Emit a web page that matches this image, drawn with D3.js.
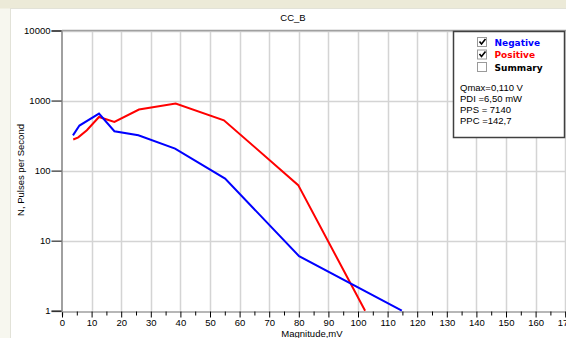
<!DOCTYPE html>
<html><head><meta charset="utf-8">
<script src="https://cdn.jsdelivr.net/npm/d3@7"></script>
<style>
html,body{margin:0;padding:0;background:#fff;}
svg{display:block;}
text{font-family:"Liberation Sans",Arial,sans-serif;}
</style></head>
<body>
<svg id="c" width="566" height="338"></svg>
<script>
const title = "CC_B";
const xLabel = "Magnitude,mV";
const yLabel = "N, Pulses per Second";
const xTicks = [0,10,20,30,40,50,60,70,80,90,100,110,120,130,140,150,160,170];
const yTicks = [1,10,100,1000,10000];
const negX = [3.7, 5.9, 12.5, 17.7, 25.8, 38.2, 55.1, 80.1, 114.8];
const negY = [318, 440, 651, 365, 320, 206, 77, 6.0, 1.0];
const posX = [3.8, 5.5, 8.4, 12.5, 17.7, 26.0, 38.4, 54.7, 79.8, 102.4];
const posY = [278, 298, 377, 583, 494, 743, 905, 523, 62, 1.0];
const legendNames = ["Negative","Positive","Summary"];
const legendColors = ["#0000ff","#ff0000","#000000"];
const legendChecked = [true,true,false];
const stats = ["Qmax=0,110 V","PDI =6,50 mW","PPS = 7140","PPC =142,7"];

const svg = d3.select("#c");
// window frame
svg.append("rect").attr("x",0).attr("y",0).attr("width",566).attr("height",338).attr("fill","#f7f7ef");
svg.append("rect").attr("x",0).attr("y",0).attr("width",566).attr("height",8.5).attr("fill","#ecead8");
svg.append("rect").attr("x",10.5).attr("y",8.5).attr("width",560).attr("height",340).attr("fill","#fff").attr("stroke","#e2e2d8");

const x = d3.scaleLinear().domain([0,170]).range([62,565.2]);
const y = d3.scaleLog().domain([1,10000]).range([310.7,30.5]);

// grid
const g = svg.append("g");
g.selectAll(".vg").data(xTicks.slice(1)).join("line")
  .attr("x1",d=>Math.round(x(d))+0.5).attr("x2",d=>Math.round(x(d))+0.5)
  .attr("y1",y(10000)).attr("y2",y(1)).attr("stroke","#d4d4d4").attr("stroke-width",1.5);
g.selectAll(".hg").data(yTicks.slice(1)).join("line")
  .attr("x1",x(0)).attr("x2",566).attr("y1",d=>Math.round(y(d))+0.5).attr("y2",d=>Math.round(y(d))+0.5)
  .attr("stroke","#d4d4d4").attr("stroke-width",1.5);

// axes
const xAxis = d3.axisBottom(x).tickValues(d3.range(0,171,5)).tickSize(4)
  .tickFormat(d => d%10===0 ? d : "");
const gx = svg.append("g").attr("transform",`translate(0,${Math.round(y(1))+0.5})`).call(xAxis);
gx.select(".domain").attr("stroke","#a0a0a0").attr("stroke-width",1.5);
gx.selectAll(".tick line").attr("stroke","#000").attr("y2",d=>d%10===0?6:4);
gx.selectAll(".tick text").attr("y",7.5).attr("font-size","9.5px").attr("fill","#000");

const yAxis = d3.axisLeft(y).tickValues(yTicks).tickFormat(d3.format("d")).tickSize(10);
const gy = svg.append("g").attr("transform",`translate(${Math.round(x(0))-0.5},0)`).call(yAxis);
gy.select(".domain").attr("stroke","#a0a0a0").attr("stroke-width",2);
gy.selectAll(".tick line").attr("stroke","#000");
gy.selectAll(".tick text").attr("x",-11).attr("font-size","9.5px").attr("fill","#000");
// top border of plot
svg.append("line").attr("x1",x(0)).attr("x2",566).attr("y1",y(10000)).attr("y2",y(10000)).attr("stroke","#a0a0a0").attr("stroke-width",1.5);

// titles
svg.append("text").attr("x",293).attr("y",21).attr("text-anchor","middle").attr("font-size","9.5px").text(title);
svg.append("text").attr("x",312).attr("y",337).attr("text-anchor","middle").attr("font-size","9.5px").text(xLabel);
svg.append("text").attr("transform","translate(24,170) rotate(-90)").attr("text-anchor","middle").attr("font-size","9.5px").text(yLabel);

// lines
const line = d3.line().x(d=>x(d[0])).y(d=>y(d[1]));
svg.append("path").datum(posX.map((v,i)=>[v,posY[i]])).attr("d",line)
  .attr("fill","none").attr("stroke","#ff0000").attr("stroke-width",2);
svg.append("path").datum(negX.map((v,i)=>[v,negY[i]])).attr("d",line)
  .attr("fill","none").attr("stroke","#0000ff").attr("stroke-width",2);

// legend
const lg = svg.append("g");
lg.append("rect").attr("x",453.5).attr("y",31.5).attr("width",111).attr("height",106)
  .attr("fill","#fff").attr("stroke","#404040").attr("stroke-width",1.5);
legendNames.forEach((n,i)=>{
  const cy = 37 + i*12.5;
  lg.append("rect").attr("x",477.5).attr("y",cy+0.5).attr("width",9).attr("height",9)
    .attr("fill","#fff").attr("stroke","#9a9a9a").attr("stroke-width",1);
  if(legendChecked[i]){
    lg.append("path").attr("d",`M${479.5},${cy+4.5} l2,2.5 l4,-5`).attr("fill","none").attr("stroke","#000").attr("stroke-width",1.6);
  }
  lg.append("text").attr("x",494.5).attr("y",cy+8.5).attr("font-size","9px").attr("font-weight","bold")
    .style("font-family","'DejaVu Sans',Verdana,sans-serif")
    .attr("fill",legendColors[i]).text(n);
});
stats.forEach((s,i)=>{
  lg.append("text").attr("x",460).attr("y",91+i*11).attr("font-size","9.5px").attr("fill","#000").text(s);
});
</script>
</body></html>
